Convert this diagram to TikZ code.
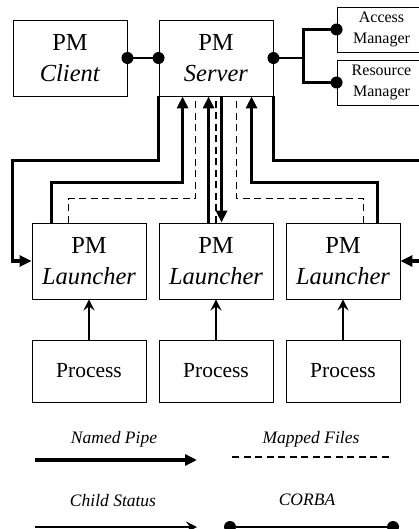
\documentclass[tikz,border=0pt]{standalone}
\usepackage{fontspec}
\setmainfont{Liberation Serif}
\usepackage{tikz}
\usetikzlibrary{arrows.meta}

\begin{document}
\begin{tikzpicture}[x=1pt,y=1pt,yscale=-1,
    box/.style={draw, line width=0.9pt, inner sep=0pt, align=center,
                minimum width=114, minimum height=76,
                font=\fontsize{24.5}{31}\selectfont},
    procbox/.style={box, minimum height=62, font=\fontsize{21.5}{25}\selectfont},
    mgrbox/.style={box, minimum width=89, minimum height=45,
                   font=\fontsize{16}{21}\selectfont},
    pipe/.style={line width=3.2pt, -{Triangle[length=12pt,width=11pt]}},
    mapped/.style={line width=1.4pt, dash pattern=on 7pt off 4.5pt},
    status/.style={line width=2.6pt, -{Stealth[length=11pt,width=11pt,inset=4pt]}},
    corba/.style={line width=2.8pt},
    dot/.style={fill=black},
    legend/.style={font=\fontsize{17.5}{20}\selectfont\itshape, anchor=base}]
  \useasboundingbox (0,0) rectangle (418,529);
  \fill[white] (0,0) rectangle (418,529);

  %Shape: Rectangle [PM client and server]
  \node[box] (client) at (70,58) {PM\\\textit{Client}};
  \node[box] (server) at (216,58) {PM\\\textit{Server}};
  %Shape: Rectangle [managers]
  \node[mgrbox] (access) at (381.5,29.5) {Access\\Manager};
  \node[mgrbox] (resource) at (381.5,82.5) {Resource\\Manager};

  %Shape: Rectangle [launchers]
  \node[box] (launchL) at (89,261) {PM\\\textit{Launcher}};
  \node[box] (launchM) at (216,261) {PM\\\textit{Launcher}};
  \node[box] (launchR) at (343,261) {PM\\\textit{Launcher}};
  %Shape: Rectangle [processes]
  \node[procbox] (procL) at (89,371) {Process};
  \node[procbox] (procM) at (216,371) {Process};
  \node[procbox] (procR) at (343,371) {Process};

  % CORBA links
  \draw[corba] (client.east) -- (server.west);
  \draw[corba] (server.east) -- ++(30,0) coordinate (fork);
  \draw[corba] (access.west) -| (fork) |- (resource.west);
  \foreach \p in {client.east, server.west, server.east, access.west, resource.west}
    \fill[dot] (\p) circle (6);

  % named pipes, server <-> launchers
  \draw[pipe] (server.south west) -- ++(0,64) -| ([xshift=-19]launchL.west) -- (launchL.west);
  \draw[pipe] (server.south east) -- ++(0,64) -| ([xshift=21]launchR.east) -- (launchR.east);
  \draw[pipe] ([xshift=20]launchL.north west) -- ++(0,-40) -| ([xshift=24]server.south west);
  \draw[pipe] ([xshift=50]launchM.north west) -- ([xshift=50]server.south west);
  \draw[pipe] ([xshift=63]server.south west) -- ([xshift=63]launchM.north west);
  \draw[pipe] ([xshift=92]launchR.north west) -- ++(0,-40) -| ([xshift=93]server.south west);

  % mapped files
  \draw[mapped] ([xshift=37]launchL.north west) -- ++(0,-24) -| ([xshift=37]server.south west);
  \draw[mapped] (launchM.north) -- (server.south);
  \draw[mapped] ([xshift=78]launchR.north west) -- ++(0,-24) -| ([xshift=78]server.south west);

  % child status
  \draw[status] (procL) -- (launchL);
  \draw[status] (procM) -- (launchM);
  \draw[status] (procR) -- (launchR);

  % Legend
  \node[legend] (lpipe) at (114,443) {Named Pipe};
  \node[legend] (lmap) at (311,443) {Mapped Files};
  \node[legend] (lstat) at (113,506) {Child Status};
  \node[legend] (lcorba) at (307,505) {CORBA};
  \coordinate (np1) at (35,460);   \coordinate (np2) at (197,460);
  \coordinate (mf1) at (232,457);  \coordinate (mf2) at (393,457);
  \coordinate (cs1) at (35,527);   \coordinate (cs2) at (197,527);
  \coordinate (cb1) at (230,527);  \coordinate (cb2) at (393,527);
  \draw[pipe] (np1) -- (np2);
  \draw[mapped] (mf1) -- (mf2);
  \draw[status] (cs1) -- (cs2);
  \draw[corba] (cb1) -- (cb2);
  \fill[dot] (cb1) circle (6);
  \fill[dot] (cb2) circle (6);
\end{tikzpicture}
\end{document}
